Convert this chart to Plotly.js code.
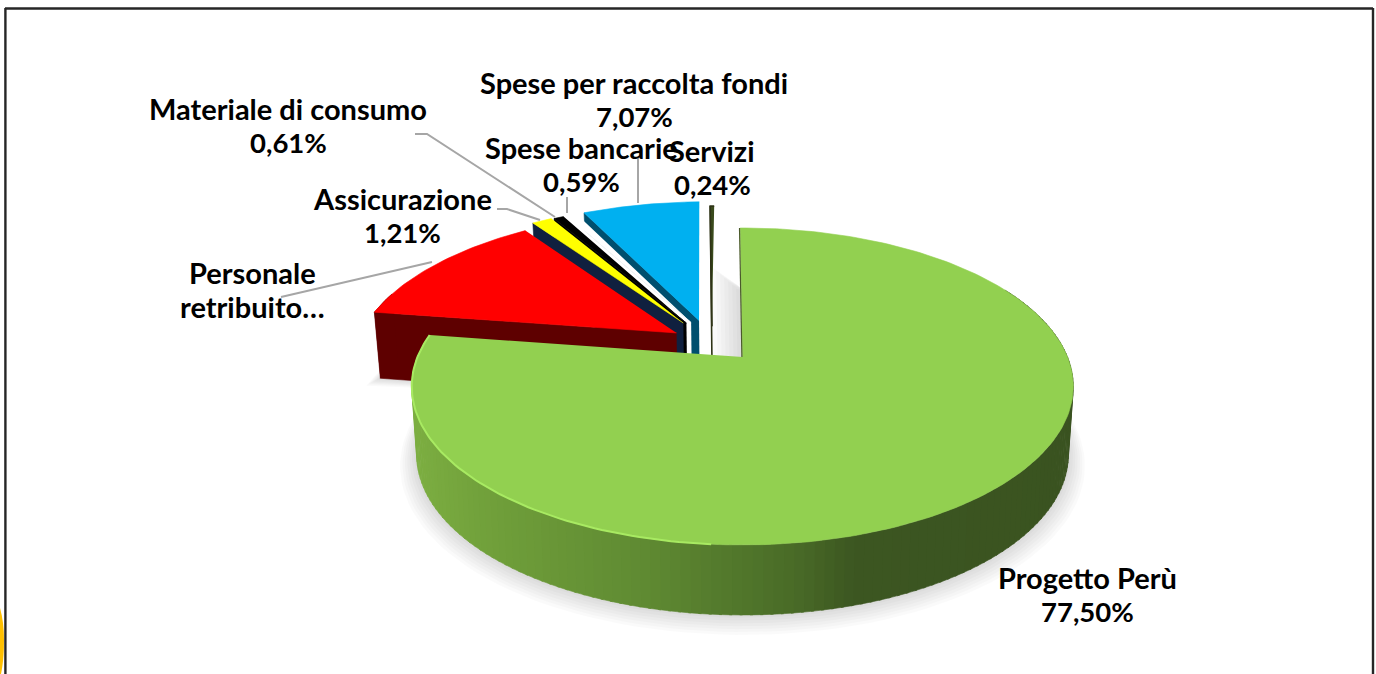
<!DOCTYPE html>
<html>
<head>
<meta charset="utf-8">
<script src="https://cdn.plot.ly/plotly-3.0.1.min.js"></script>
<style>html,body{margin:0;padding:0;background:#fff}#chart{width:1376px;height:674px}</style>
</head>
<body>
<div id="chart"></div>
<script>
// ---- data (clockwise from twelve o'clock) ----
const categories = ['Progetto Perù','Personale retribuito…','Assicurazione','Materiale di consumo','Spese bancarie','Spese per raccolta fondi','Servizi'];
const values = [77.50, 12.78, 1.21, 0.61, 0.59, 7.07, 0.24];
const shownValues = ['77,50%', null, '1,21%', '0,61%', '0,59%', '7,07%', '0,24%'];
const labelLines = [['Progetto Perù'],['Personale','retribuito…'],['Assicurazione'],['Materiale di consumo'],['Spese bancarie'],['Spese per raccolta fondi'],['Servizi']];

// ---- style ----
const topColors  = ['#92D050','#FF0000','#FFFF00','#000000','#FFFFFF','#00B0F0','#3A4A1C'];
const wallColors = ['#3B5420','#5E0000','#10203F','#000000','#FFFFFF','#004F6E','#2E3316'];
const explodeU = [0,-0.209,-0.190,-0.180,-0.165,-0.140,-0.098];
const explodeV = [0, 0.162, 0.232, 0.232, 0.235, 0.250, 0.208];
const labelX = [1087,252,402,288,581,634,712];
const labelY = [577.5,272.5,198.5,108.5,147.5,82.5,150.5];
const LINE_GAP = 33.5;
const wallStops = [[415,[124,174,65]],[500,[111,158,58]],[650,[95,138,50]],[800,[73,107,39]],[860,[60,86,33]],[1080,[58,83,32]]];

// ---- projection of the tilted disc ----
const CX=742.5, CY=357, RX=325, RY=153, K=0.186, ROT=-0.5;
function proj(u,v){const s=1/(1+K*v);return [CX+RX*u*s, CY-RY*v*s];}
function low(u,v){const p=proj(u,v);return [p[0]-5*u, p[1]+67-3*v];}
function pt(i,deg){const a=(deg+ROT)*Math.PI/180;return [explodeU[i]+Math.sin(a), explodeV[i]+Math.cos(a)];}
function arc(i,a,b,fn,n){const r=[];for(let j=0;j<=n;j++){const d=a+(b-a)*j/n;const w=pt(i,d);r.push(fn(w[0],w[1]));}return r;}
function poly(points,color,extra){return Object.assign({type:'scatter',mode:'lines',x:points.map(p=>p[0]),y:points.map(p=>p[1]),fill:'toself',fillcolor:color,line:{color:color,width:0.6},hoverinfo:'skip',showlegend:false},extra||{});}
function wallColor(x){for(let i=1;i<wallStops.length;i++){if(x<=wallStops[i][0]){const a=wallStops[i-1],b=wallStops[i],t=Math.max(0,(x-a[0])/(b[0]-a[0]));return 'rgb('+a[1].map((c,k)=>Math.round(c+(b[1][k]-c)*t)).join(',')+')';}}return 'rgb(58,83,32)';}

const total=values.reduce((a,b)=>a+b,0);
const starts=[];values.reduce((acc,v,i)=>{starts[i]=acc;return acc+v/total*360;},0);
const ends=values.map((v,i)=>starts[i]+v/total*360);
const traces=[];

// soft shadows under the two large slices
[0,1].forEach(i=>{
  for(let l=7;l>=1;l--){
    const grow=1+0.007*l;
    const pts=[];
    for(let j=0;j<=120;j++){
      const d=starts[i]+(ends[i]-starts[i])*j/120;
      const a=(d+ROT)*Math.PI/180;
      const q=low(explodeU[i]+grow*Math.sin(a),explodeV[i]+grow*Math.cos(a));
      pts.push([q[0],q[1]+1.2*l]);
    }
    const base=low(explodeU[i],explodeV[i]);
    if(i===0){
      // the shadow also spills into the notch left of the main slice
      pts[0]=[pts[0][0]-4*l,pts[0][1]-4*l];
      pts.push([base[0]-4*l,base[1]]);
    } else {
      pts.push(base);
    }
    traces.push(poly(pts,'rgba(0,0,0,0.018)',{line:{width:0,color:'rgba(0,0,0,0)'}}));
  }
});

// slices from back to front
[6,5,4,3,2,1].forEach(i=>{
  const apexW=[explodeU[i],explodeV[i]];
  const o=pt(i,starts[i]);
  const thin=i===6?{line:{color:wallColors[i],width:1.6}}:{};
  traces.push(poly([proj(apexW[0],apexW[1]),proj(o[0],o[1]),low(o[0],o[1]),low(apexW[0],apexW[1])],wallColors[i],thin));
  if(i===1){
    const front=arc(i,starts[i],starts[i]+8,proj,10).concat(arc(i,starts[i]+8,starts[i],low,10));
    traces.push(poly(front,wallColors[i]));
  }
  traces.push(poly([proj(apexW[0],apexW[1])].concat(arc(i,starts[i],ends[i],proj,40)),topColors[i],Object.assign({name:categories[i]},thin)));
});

// main slice: shaded side wall, then top face
const step=1.5;
for(let d=62;d<ends[0];d+=step){
  const e=Math.min(d+step+0.4,ends[0]);
  const seg=arc(0,d,e,proj,2).concat(arc(0,e,d,low,2));
  const col=wallColor(proj.apply(null,pt(0,d))[0]);
  traces.push(poly(seg,col));
}
traces.push(poly([proj(0,0)].concat(arc(0,0,ends[0],proj,220)),topColors[0],{name:categories[0]}));
const rim=arc(0,185,ends[0],proj,80);
traces.push({type:'scatter',mode:'lines',x:rim.map(p=>p[0]),y:rim.map(p=>p[1]),line:{color:'#A8EA62',width:2},hoverinfo:'skip',showlegend:false});
const edge=[pt(0,0)].map(w=>proj(w[0],w[1])).concat([proj(0,0)]);
traces.push({type:'scatter',mode:'lines',x:edge.map(p=>p[0]-0.6),y:edge.map(p=>p[1]),line:{color:'#4A5A2A',width:1.2},hoverinfo:'skip',showlegend:false});

// ---- labels: one annotation per text line so the line gap can follow the picture ----
const annotations=[];
categories.forEach((c,i)=>{
  const nameLines=labelLines[i];
  nameLines.concat(shownValues[i]?[shownValues[i]]:[]).forEach((txt,n)=>{
    annotations.push({xref:'x',yref:'y',x:labelX[i],y:labelY[i]+n*LINE_GAP,xanchor:'center',yanchor:'middle',showarrow:false,align:'center',
      text:txt,font:{family:'Lato, "Open Sans", sans-serif',size:n<nameLines.length?29:27.5,color:'#000',weight:700}});
  });
});

// ---- leader lines and page furniture ----
const leader=d=>({type:'path',path:d,line:{color:'#A6A6A6',width:2},xref:'x',yref:'y'});
const border=(x0,y0,x1,y1)=>({type:'line',x0,y0,x1,y1,line:{color:'#262626',width:2.4},xref:'x',yref:'y'});
const shapes=[
  leader('M415,134 L427,134 L555,217'),
  leader('M497,209 L507,209 L540,220'),
  leader('M567,197 L567,213'),
  leader('M638,158 L638,203'),
  leader('M281,297 L432,262'),
  border(5,8.5,1373,8.5),border(5.4,8,5.4,674),border(1373,8,1373,674),
  {type:'path',path:'M0,608 Q4,622 4,640 Q4,660 1,674 L0,674 Z',fillcolor:'#FFC000',line:{width:0},xref:'x',yref:'y'}
];

const layout={
  width:1376,height:674,margin:{l:0,r:0,t:0,b:0},paper_bgcolor:'#fff',plot_bgcolor:'#fff',showlegend:false,
  xaxis:{range:[0,1376],visible:false,fixedrange:true},
  yaxis:{range:[674,0],visible:false,fixedrange:true},
  annotations:annotations,shapes:shapes
};
Plotly.newPlot('chart',traces,layout,{displayModeBar:false,staticPlot:true});
</script>
</body>
</html>
